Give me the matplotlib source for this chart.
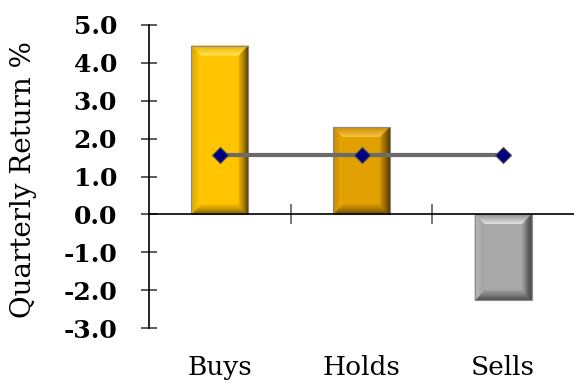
import matplotlib
matplotlib.use("Agg")
import matplotlib.pyplot as plt
from matplotlib.patches import Polygon, Rectangle
from matplotlib.colors import to_rgb
import numpy as np

categories = ["Buys", "Holds", "Sells"]
returns = [4.45, 2.30, -2.27]
average = [1.57, 1.57, 1.57]
yticks = [5.0, 4.0, 3.0, 2.0, 1.0, 0.0, -1.0, -2.0, -3.0]

# face, top (outer, inner), left (outer, inner), right (outer, inner), bottom (outer, inner)
palettes = [
    dict(face="#FFC400", top=("#E8B000", "#FFE650"), left=("#D9A200", "#FFCC10"),
         right=("#5A3E00", "#E8AE00"), bottom=("#7A5A00", "#F0B800")),
    dict(face="#E0A000", top=("#C88A00", "#F8C848"), left=("#C08800", "#E8A808"),
         right=("#4A3000", "#C88E00"), bottom=("#6A4800", "#D09400")),
    dict(face="#A9A9A9", top=("#8C8C8C", "#E6E6E6"), left=("#BDBDBD", "#A2A2A2"),
         right=("#3A3A3A", "#A0A0A0"), bottom=("#4A4A4A", "#989898")),
]

fig = plt.figure(figsize=(5.74, 3.83), dpi=100)
ax = fig.add_axes([149/574, 55/383, 425/574, 303/383])
ax.set_xlim(-0.5, 2.5)
ax.set_ylim(-3.0, 5.0)

x = np.arange(len(categories))
width = 0.40
bx = 0.064   # bevel in category units
by = 0.25    # bevel in value units
nstrip = 8


def mix(c1, c2, t):
    a, b = np.array(to_rgb(c1)), np.array(to_rgb(c2))
    return tuple(a + (b - a) * t)


for xi, val, pal in zip(x, returns, palettes):
    x0, x1 = xi - width/2, xi + width/2
    lo, hi = min(0, val), max(0, val)
    ax.add_patch(Rectangle((x0, lo), width, hi - lo, facecolor=pal["face"], edgecolor="none", zorder=2))
    for k in range(nstrip):
        t0, t1 = k / nstrip, (k + 1) / nstrip
        tm = (k + 0.5) / nstrip

        def rect(t):
            return (x0 + t * bx, x1 - t * bx, lo + t * by, hi - t * by)
        ax0, ax1, alo, ahi = rect(t0)
        bx0, bx1, blo, bhi = rect(t1)
        sides = {
            "top": [(ax0, ahi), (ax1, ahi), (bx1, bhi), (bx0, bhi)],
            "bottom": [(ax0, alo), (ax1, alo), (bx1, blo), (bx0, blo)],
            "left": [(ax0, alo), (bx0, blo), (bx0, bhi), (ax0, ahi)],
            "right": [(ax1, alo), (bx1, blo), (bx1, bhi), (ax1, ahi)],
        }
        for name, pts in sides.items():
            c = mix(pal[name][0], pal[name][1], tm)
            ax.add_patch(Polygon(pts, closed=True, facecolor=c, edgecolor=c,
                                 linewidth=0.3, zorder=2.1))
    ax.add_patch(Rectangle((x0, lo), width, hi - lo, facecolor="none", edgecolor="#8A8A8A",
                           linewidth=0.8, zorder=2.2))

ax.plot(x, average, color="#6B6B6B", linewidth=3, zorder=3,
        marker="D", markersize=8, markerfacecolor="#000080", markeredgecolor="#505050",
        markeredgewidth=0.8)

for s in ["top", "right"]:
    ax.spines[s].set_visible(False)
ax.spines["bottom"].set_position(("data", 0))
ax.spines["bottom"].set_color("black")
ax.spines["bottom"].set_linewidth(1.2)
ax.spines["left"].set_color("black")
ax.spines["left"].set_linewidth(1.2)

ax.set_yticks(yticks)
ax.set_yticklabels([f"{v:.1f}" for v in yticks], family="DejaVu Serif", fontsize=18, fontweight="bold")
ax.tick_params(axis="y", direction="inout", length=12, width=1.2, color="#404040", pad=17)
ax.set_xticks([0.5, 1.5])
ax.set_xticklabels(["", ""])
ax.tick_params(axis="x", direction="inout", length=14, width=1.2, color="#606060")

for xi, c in zip(x, categories):
    ax.text(xi, -0.09, c, transform=ax.get_xaxis_transform(), ha="center", va="top",
            family="DejaVu Serif", fontsize=19)

fig.text(24/574, 0.53, "Quarterly Return %", rotation=90, ha="center", va="center",
         family="DejaVu Serif", fontsize=20)

fig.savefig("out.png", dpi=100)
